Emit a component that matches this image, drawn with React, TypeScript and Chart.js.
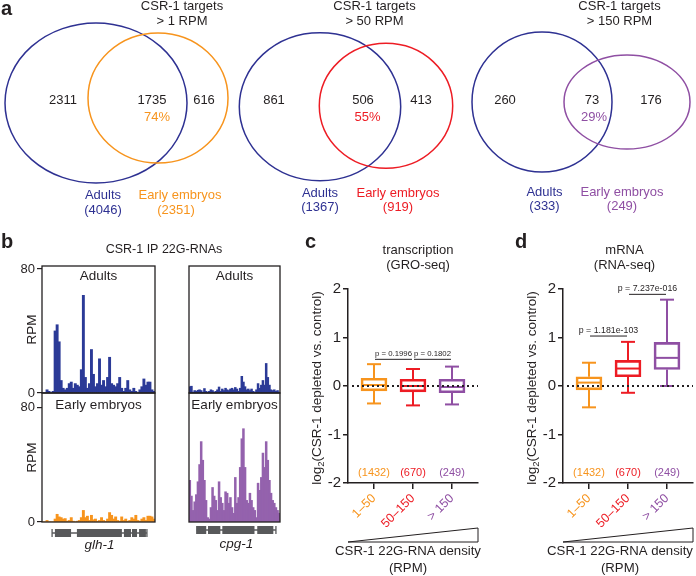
import React, { useEffect, useRef } from 'react';
import { Chart, registerables } from 'chart.js';

Chart.register(...registerables);

const W = 696;
const H = 576;
const FONT = '"Liberation Sans", Arial, Helvetica, sans-serif';
const INK = '#231f20';
const BLUE = '#2e3192';
const TRACK_BLUE = '#2b3a97';
const ORANGE = '#f7941d';
const RED = '#ed1c24';
const PURPLE = '#8f4fa3';
const TRACK_PURPLE = '#9462ad';
const GENE_GRAY = '#58595b';

// ---------------- Panel a : Venn counts ----------------
const vennThresholds = ['> 1 RPM', '> 50 RPM', '> 150 RPM'];
const vennAdultOnly = [2311, 861, 260];
const vennShared = [1735, 506, 73];
const vennEmbryoOnly = [616, 413, 176];
const vennSharedPct = ['74%', '55%', '29%'];
const vennAdultTotal = [4046, 1367, 333];
const vennEmbryoTotal = [2351, 919, 249];
const vennEmbryoColors = [ORANGE, RED, PURPLE];

// ---------------- Panel b : 22G-RNA tracks (RPM per bin) ----------------
const glhAdults = [0, 0, 2, 1, 0, 1, 40, 44, 33, 8, 3, 2, 3, 6, 7, 3, 6, 5, 4, 15, 63, 10, 3, 6, 28, 12, 4, 6, 22, 5, 8, 4, 10, 23, 6, 5, 4, 6, 10, 3, 1, 3, 8, 2, 1, 3, 1, 0, 2, 4, 9, 5, 7, 7, 2, 1];
const glhEmbryos = [0, 0, 1, 0, 0, 0, 2, 5.3, 3.5, 3, 2, 2.3, 0.5, 1, 3, 0.5, 0, 0.5, 1, 3, 8, 3, 4, 1, 4.6, 1.5, 2, 0.5, 1, 3, 1, 0.5, 2, 6.5, 4.6, 2, 3.5, 1, 0.5, 3.5, 1, 2, 0.5, 1, 3, 2, 4.6, 1, 0.5, 2, 3, 1, 4, 4, 3.5, 2];
const cpgAdults = [4, 4.3, 0.5, 1.5, 1, 1.7, 2, 1.5, 0.5, 2.8, 1, 0.5, 1, 2, 1.5, 0.5, 1, 2, 3.8, 1, 2.5, 1.5, 3, 2, 1.5, 2.5, 3, 2, 3.5, 2.5, 1, 3, 10.7, 7, 4, 2, 2.5, 1.5, 2.5, 1, 0.5, 2, 6, 3, 5, 8, 5, 19, 10, 5, 2, 1.5, 2, 1, 1.5, 0.5];
const cpgEmbryos = [29, 18, 8, 14, 19, 28, 40, 56, 43, 29, 15, 3, 2, 10, 24, 18, 15, 8, 28, 17, 13, 8, 21, 20, 13, 17, 10, 6, 31, 13, 17, 38, 58, 65, 38, 15, 13, 20, 15, 10, 8, 3, 27, 22, 31, 48, 38, 56, 43, 29, 20, 15, 13, 10, 8, 6];
const trackTicks = [0, 80];
// gene models, in bin units along each locus
const glhSpan = [5.0, 52.0];
const glhExons = [[6.4, 14.4], [17.3, 39.6], [40.6, 44.1], [44.6, 47.1], [48.1, 51.5]];
const cpgSpan = [4.8, 53.5];
const cpgExons = [[4.8, 10.6], [11.7, 19.3], [20.5, 40.3], [42.0, 51.9]];

// ---------------- Panels c, d : box plots ----------------
const categories = ['1–50', '50–150', '> 150'];
const countLabels = ['(1432)', '(670)', '(249)'];
const catColors = [ORANGE, RED, PURPLE];
const yTicks = [-2, -1, 0, 1, 2];

const groMin = [-0.36, -0.40, -0.38];
const groQ1 = [-0.10, -0.12, -0.14];
const groMed = [0.02, 0.0, -0.02];
const groQ3 = [0.16, 0.14, 0.14];
const groMax = [0.45, 0.35, 0.40];
const groPValues = ['p = 0.1996', 'p = 0.1802'];
const groPHeights = [0.55, 0.55];

const rnaMin = [-0.44, -0.14, 0.0];
const rnaQ1 = [-0.08, 0.19, 0.34];
const rnaMed = [0.07, 0.36, 0.58];
const rnaQ3 = [0.19, 0.53, 0.90];
const rnaMax = [0.48, 0.91, 1.78];
const rnaPValues = ['p = 1.181e-103', 'p = 7.237e-016'];
const rnaPHeights = [1.03, 1.89];

const pPairs = [[1, 2], [2, 3]];

// ---------------- layout (positions only) ----------------
const VENN_GEOM = [
  { a: [96, 103, 91, 80], e: [158, 98, 70, 65], title: 182, nA: 63, nS: 152, nE: 204, pct: 157, lA: 103, lE: 180, tE: 176, lY: 199, tY: 214 },
  { a: [320, 106.7, 80.7, 74], e: [386, 105.8, 66.7, 62.5], title: 374.5, nA: 274, nS: 363, nE: 421, pct: 367.5, lA: 320, lE: 398, tE: 398, lY: 197, tY: 211 },
  { a: [542, 102, 70, 70], e: [627, 102, 63, 47], title: 619.5, nA: 505, nS: 592, nE: 651, pct: 594, lA: 544.5, lE: 622, tE: 622, lY: 196, tY: 210 },
];

type TextOpts = { size?: number; color?: string; align?: CanvasTextAlign; weight?: string; style?: string; baseline?: CanvasTextBaseline };
function text(ctx: CanvasRenderingContext2D, s: string, x: number, y: number, o: TextOpts = {}) {
  ctx.font = `${o.style || 'normal'} ${o.weight || 'normal'} ${o.size || 13}px ${FONT}`;
  ctx.fillStyle = o.color || INK;
  ctx.textAlign = o.align || 'center';
  ctx.textBaseline = o.baseline || 'alphabetic';
  ctx.fillText(s, x, y);
}
function line(ctx: CanvasRenderingContext2D, x1: number, y1: number, x2: number, y2: number) {
  ctx.beginPath();
  ctx.moveTo(x1, y1);
  ctx.lineTo(x2, y2);
  ctx.stroke();
}

const baseOptions = (padding: any) => ({
  animation: false,
  responsive: false,
  maintainAspectRatio: false,
  devicePixelRatio: 1,
  events: [],
  layout: { padding },
  plugins: { legend: { display: false }, tooltip: { enabled: false }, title: { display: false } },
});

// ---------------- figure layer: venns + free text ----------------
const figurePlugin = {
  id: 'figureLayer',
  afterDraw(chart: any) {
    const { ctx, scales } = chart;
    const X = (v: number) => scales.x.getPixelForValue(v);
    const Y = (v: number) => scales.y.getPixelForValue(v);
    const SX = (d: number) => X(d) - X(0);
    const SY = (d: number) => Math.abs(Y(d) - Y(0));
    ctx.save();
    text(ctx, 'a', X(1), Y(15), { size: 20, weight: 'bold', align: 'left' });
    text(ctx, 'b', X(1), Y(248), { size: 20, weight: 'bold', align: 'left' });
    text(ctx, 'c', X(305), Y(248), { size: 20, weight: 'bold', align: 'left' });
    text(ctx, 'd', X(515), Y(248), { size: 20, weight: 'bold', align: 'left' });
    text(ctx, 'CSR-1 IP 22G-RNAs', X(164), Y(253), { size: 12.5 });

    VENN_GEOM.forEach((g, i) => {
      ctx.lineWidth = 1.5;
      ctx.strokeStyle = BLUE;
      ctx.beginPath();
      ctx.ellipse(X(g.a[0]), Y(g.a[1]), SX(g.a[2]), SY(g.a[3]), 0, 0, Math.PI * 2);
      ctx.stroke();
      ctx.strokeStyle = vennEmbryoColors[i];
      ctx.beginPath();
      ctx.ellipse(X(g.e[0]), Y(g.e[1]), SX(g.e[2]), SY(g.e[3]), 0, 0, Math.PI * 2);
      ctx.stroke();

      text(ctx, 'CSR-1 targets', X(g.title), Y(10), { size: 13 });
      text(ctx, vennThresholds[i], X(g.title), Y(25), { size: 13 });
      text(ctx, String(vennAdultOnly[i]), X(g.nA), Y(104), { size: 13 });
      text(ctx, String(vennShared[i]), X(g.nS), Y(104), { size: 13 });
      text(ctx, String(vennEmbryoOnly[i]), X(g.nE), Y(104), { size: 13 });
      text(ctx, vennSharedPct[i], X(g.pct), Y(121), { size: 13, color: vennEmbryoColors[i] });
      text(ctx, 'Adults', X(g.lA), Y(g.lY), { size: 13, color: BLUE });
      text(ctx, `(${vennAdultTotal[i]})`, X(g.lA), Y(g.tY), { size: 13, color: BLUE });
      text(ctx, 'Early embryos', X(g.lE), Y(g.lY), { size: 13, color: vennEmbryoColors[i] });
      text(ctx, `(${vennEmbryoTotal[i]})`, X(g.tE), Y(g.tY), { size: 13, color: vennEmbryoColors[i] });
    });
    ctx.restore();
  },
};

function figureConfig() {
  return {
    type: 'scatter',
    data: { datasets: [] },
    options: {
      ...baseOptions(0),
      scales: {
        x: { type: 'linear', min: 0, max: W, display: false },
        y: { type: 'linear', min: 0, max: H, reverse: true, display: false },
      },
    },
    plugins: [figurePlugin],
  };
}

// ---------------- track layers ----------------
type TrackSpec = {
  id: string;
  values: number[];
  color: string;
  yMax: number;
  padding: { left: number; top: number; right: number; bottom: number };
  axis: boolean;
  label: string;
  labelDy: number;
  gene?: { span: number[]; exons: number[][]; name: string; dy: number; textDy: number };
};

function trackConfig(t: TrackSpec) {
  return {
    type: 'bar',
    data: {
      labels: t.values.map((_, i) => String(i)),
      datasets: [{ data: t.values, backgroundColor: t.color, borderWidth: 0, barPercentage: 1, categoryPercentage: 1, inflateAmount: 0.45 }],
    },
    options: {
      ...baseOptions(t.padding),
      scales: {
        x: { display: false },
        y: {
          display: t.axis,
          min: 0,
          max: t.yMax,
          afterBuildTicks: (s: any) => { s.ticks = trackTicks.map((value) => ({ value })); },
          afterFit: (s: any) => { s.width = 22; },
          ticks: { font: { family: FONT, size: 13 }, color: INK, padding: 2 },
          grid: { display: true, drawOnChartArea: false, drawTicks: true, tickLength: 5, color: INK, lineWidth: 1.2 },
          border: { display: false },
          title: { display: true, text: 'RPM', color: INK, font: { family: FONT, size: 13.5 }, padding: { top: 4, bottom: 4 } },
        },
      },
    },
    plugins: [
      {
        id: 'track-' + t.id,
        afterDraw(chart: any) {
          const { ctx, chartArea: a, scales } = chart;
          ctx.save();
          ctx.strokeStyle = INK;
          ctx.lineWidth = 1.3;
          ctx.strokeRect(a.left, a.top, a.right - a.left, a.bottom - a.top);
          text(ctx, t.label, (a.left + a.right) / 2, a.top + t.labelDy, { size: 13.5 });
          if (t.gene) {
            const g = t.gene;
            const P = (u: number) => scales.x.getPixelForValue(u - 0.5);
            const gy = a.bottom + g.dy;
            ctx.strokeStyle = GENE_GRAY;
            ctx.fillStyle = GENE_GRAY;
            ctx.lineWidth = 1.3;
            line(ctx, P(g.span[0]), gy, P(g.span[1]), gy);
            line(ctx, P(g.span[0]), gy - 4, P(g.span[0]), gy + 4);
            line(ctx, P(g.span[1]), gy - 4, P(g.span[1]), gy + 4);
            g.exons.forEach(([s, e]) => {
              ctx.fillRect(P(s), gy - 4, P(e) - P(s), 8);
            });
            text(ctx, g.name, (P(g.span[0]) + P(g.span[1])) / 2, a.bottom + g.textDy, { size: 13.5, style: 'italic' });
          }
          ctx.restore();
        },
      },
    ],
  };
}

// ---------------- box plot layers ----------------
type BoxSpec = {
  id: string;
  left: number;
  right: number;
  min: number[];
  q1: number[];
  med: number[];
  q3: number[];
  max: number[];
  pValues: string[];
  pHeights: number[];
  pSize: number;
  title: string[];
  titleX: number;
  densityX: number;
};

function boxConfig(b: BoxSpec) {
  return {
    type: 'bar',
    data: {
      datasets: [
        {
          data: b.q1.map((q, i) => ({ x: i + 1, y: [q, b.q3[i]] })),
          backgroundColor: 'rgba(255,255,255,0)',
          borderColor: catColors,
          borderWidth: 2,
          borderSkipped: false,
          barThickness: 26,
        },
      ],
    },
    options: {
      ...baseOptions({ left: b.left - 40, top: 289, right: W - b.right, bottom: H - 483 - 50 }),
      scales: {
        x: {
          type: 'linear',
          min: 1 / 3,
          max: 11 / 3,
          offset: false,
          afterBuildTicks: (s: any) => { s.ticks = categories.map((_, i) => ({ value: i + 1 })); },
          afterFit: (s: any) => { s.height = 50; },
          ticks: {
            autoSkip: false,
            minRotation: 45,
            maxRotation: 45,
            padding: 2,
            font: { family: FONT, size: 12.5 },
            color: (c: any) => catColors[c.index] || INK,
            callback: (v: any) => categories[Math.round(Number(v)) - 1] ?? '',
          },
          grid: { display: true, offset: false, drawOnChartArea: false, drawTicks: true, tickLength: 6, color: INK, lineWidth: 1.5 },
          border: { display: true, color: INK, width: 1.5 },
        },
        y: {
          min: -2,
          max: 2,
          afterBuildTicks: (s: any) => { s.ticks = yTicks.map((value) => ({ value })); },
          afterFit: (s: any) => { s.width = 40; },
          ticks: { font: { family: FONT, size: 15 }, color: INK, padding: 2 },
          grid: { display: true, drawOnChartArea: false, drawTicks: true, tickLength: 5, color: INK, lineWidth: 1.5 },
          border: { display: true, color: INK, width: 1.5 },
        },
      },
    },
    plugins: [
      {
        id: 'box-' + b.id,
        afterDatasetsDraw(chart: any) {
          const { ctx, chartArea: a, scales } = chart;
          const X = (v: number) => scales.x.getPixelForValue(v);
          const Y = (v: number) => scales.y.getPixelForValue(v);
          ctx.save();
          // whiskers and medians
          b.q1.forEach((_, i) => {
            const cx = X(i + 1);
            ctx.strokeStyle = catColors[i];
            ctx.lineWidth = 2;
            line(ctx, cx, Y(b.q3[i]), cx, Y(b.max[i]));
            line(ctx, cx - 7, Y(b.max[i]), cx + 7, Y(b.max[i]));
            line(ctx, cx, Y(b.q1[i]), cx, Y(b.min[i]));
            line(ctx, cx - 7, Y(b.min[i]), cx + 7, Y(b.min[i]));
            line(ctx, cx - 12, Y(b.med[i]), cx + 12, Y(b.med[i]));
          });
          // dotted zero line
          ctx.strokeStyle = INK;
          ctx.lineWidth = 2;
          ctx.setLineDash([2, 3]);
          line(ctx, a.left + 4, Y(0), a.right, Y(0));
          ctx.setLineDash([]);
          // p-value brackets
          ctx.lineWidth = 1;
          pPairs.forEach(([p, q], i) => {
            const y = Y(b.pHeights[i]);
            const x1 = X(p) + 1;
            const x2 = X(q) - 1;
            line(ctx, x1, y, x2, y);
            text(ctx, b.pValues[i], (x1 + x2) / 2, y - 5.5, { size: b.pSize, baseline: 'middle' });
          });
          // counts
          countLabels.forEach((s, i) => {
            text(ctx, s, X(i + 1), Y(-1.79), { size: 11, color: catColors[i], baseline: 'middle' });
          });
          ctx.restore();
        },
        afterDraw(chart: any) {
          const { ctx, chartArea: a } = chart;
          ctx.save();
          // panel title
          text(ctx, b.title[0], b.titleX, 254, { size: 13 });
          text(ctx, b.title[1], b.titleX, 269, { size: 13 });
          // y-axis title with subscript
          ctx.translate(a.left - 31, 388);
          ctx.rotate(-Math.PI / 2);
          const f1 = `13.5px ${FONT}`;
          const f2 = `9.5px ${FONT}`;
          const rest = '(CSR-1 depleted vs. control)';
          ctx.font = f1;
          const w1 = ctx.measureText('log').width;
          const w3 = ctx.measureText(rest).width;
          ctx.font = f2;
          const w2 = ctx.measureText('2').width;
          const x0 = -(w1 + w2 + w3) / 2;
          ctx.fillStyle = INK;
          ctx.textAlign = 'left';
          ctx.textBaseline = 'middle';
          ctx.font = f1;
          ctx.fillText('log', x0, 0);
          ctx.font = f2;
          ctx.fillText('2', x0 + w1, 4);
          ctx.font = f1;
          ctx.fillText(rest, x0 + w1 + w2, 0);
          ctx.setTransform(1, 0, 0, 1, 0, 0);
          // density wedge
          ctx.strokeStyle = INK;
          ctx.lineWidth = 1;
          ctx.beginPath();
          ctx.moveTo(a.left, 542);
          ctx.lineTo(a.right, 528);
          ctx.lineTo(a.right, 542);
          ctx.closePath();
          ctx.stroke();
          text(ctx, 'CSR-1 22G-RNA density', b.densityX, 555, { size: 13.2 });
          text(ctx, '(RPM)', b.densityX, 572, { size: 13.2 });
          ctx.restore();
        },
      },
    ],
  };
}

const TRACKS: TrackSpec[] = [
  { id: 'glhA', values: glhAdults, color: TRACK_BLUE, yMax: 82, padding: { left: 20, top: 266, right: W - 155, bottom: H - 393 }, axis: true, label: 'Adults', labelDy: 14 },
  { id: 'glhE', values: glhEmbryos, color: ORANGE, yMax: 90, padding: { left: 20, top: 393, right: W - 155, bottom: H - 522 }, axis: true, label: 'Early embryos', labelDy: 16, gene: { span: glhSpan, exons: glhExons, name: 'glh-1', dy: 11, textDy: 27 } },
  { id: 'cpgA', values: cpgAdults, color: TRACK_BLUE, yMax: 82, padding: { left: 167, top: 266, right: W - 280, bottom: H - 393 }, axis: false, label: 'Adults', labelDy: 14 },
  { id: 'cpgE', values: cpgEmbryos, color: TRACK_PURPLE, yMax: 90, padding: { left: 167, top: 393, right: W - 280, bottom: H - 522 }, axis: false, label: 'Early embryos', labelDy: 16, gene: { span: cpgSpan, exons: cpgExons, name: 'cpg-1', dy: 8, textDy: 26 } },
];

const BOXES: BoxSpec[] = [
  { id: 'gro', left: 348, right: 478, min: groMin, q1: groQ1, med: groMed, q3: groQ3, max: groMax, pValues: groPValues, pHeights: groPHeights, pSize: 7.8, title: ['transcription', '(GRO-seq)'], titleX: 418, densityX: 408 },
  { id: 'rna', left: 563, right: 693, min: rnaMin, q1: rnaQ1, med: rnaMed, q3: rnaQ3, max: rnaMax, pValues: rnaPValues, pHeights: rnaPHeights, pSize: 8.8, title: ['mRNA', '(RNA-seq)'], titleX: 624.5, densityX: 620 },
];

function ChartLayer({ make }: { make: () => any }) {
  const ref = useRef<HTMLCanvasElement | null>(null);
  useEffect(() => {
    if (!ref.current) return;
    const chart = new Chart(ref.current, make());
    return () => chart.destroy();
  }, []);
  return (
    <canvas
      ref={ref}
      width={W}
      height={H}
      style={{ position: 'absolute', left: 0, top: 0, width: W, height: H }}
    />
  );
}

export default function App() {
  return (
    <div style={{ position: 'absolute', left: 0, top: 0, width: W, height: H, background: '#ffffff', overflow: 'hidden' }}>
      <ChartLayer make={figureConfig} />
      {TRACKS.map((t) => (
        <ChartLayer key={t.id} make={() => trackConfig(t)} />
      ))}
      {BOXES.map((b) => (
        <ChartLayer key={b.id} make={() => boxConfig(b)} />
      ))}
    </div>
  );
}
